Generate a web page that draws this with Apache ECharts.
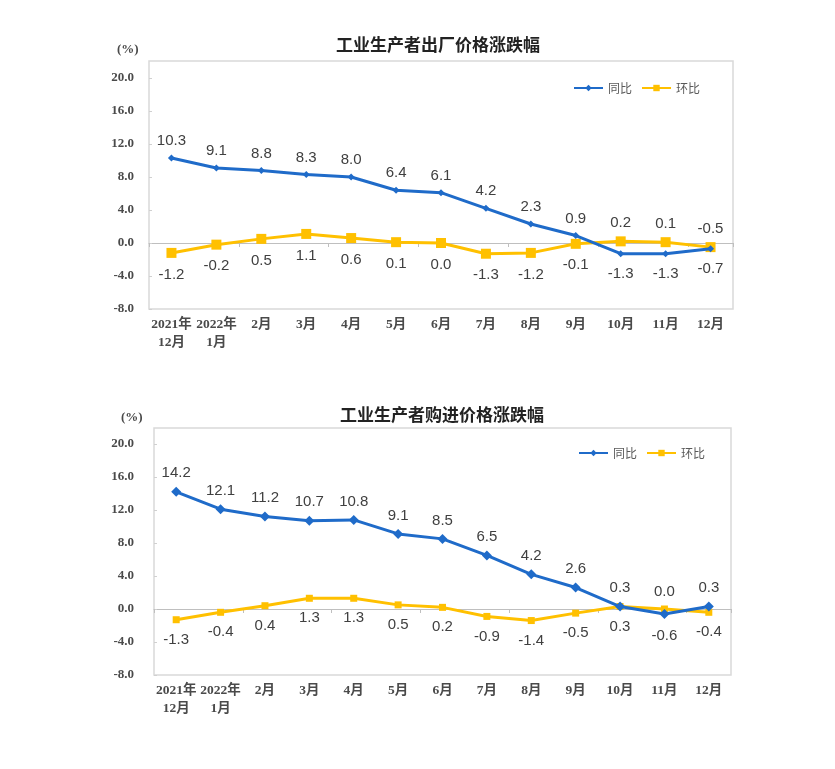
<!DOCTYPE html>
<html>
<head>
<meta charset="utf-8">
<script src="https://cdn.jsdelivr.net/npm/echarts@6/dist/echarts.min.js"></script>
<style>
html,body{margin:0;padding:0;background:#fff;}
#c{width:835px;height:769px;}
</style>
</head>
<body>
<div id="c"></div>
<script>
const categories = ['2021年\n12月','2022年\n1月','2月','3月','4月','5月','6月','7月','8月','9月','10月','11月','12月'];
const ppiYoY   = [10.3, 9.1, 8.8, 8.3, 8.0, 6.4, 6.1, 4.2, 2.3, 0.9, -1.3, -1.3, -0.7];
const ppiMoM   = [-1.2, -0.2, 0.5, 1.1, 0.6, 0.1, 0.0, -1.3, -1.2, -0.1, 0.2, 0.1, -0.5];
const ppirmYoY = [14.2, 12.1, 11.2, 10.7, 10.8, 9.1, 8.5, 6.5, 4.2, 2.6, 0.3, -0.6, 0.3];
const ppirmMoM = [-1.3, -0.4, 0.4, 1.3, 1.3, 0.5, 0.2, -0.9, -1.4, -0.5, 0.3, 0.0, -0.4];
const yMin = -8, yMax = 20, yStep = 4;
const titles = ['工业生产者出厂价格涨跌幅', '工业生产者购进价格涨跌幅'];
const seriesNames = ['同比', '环比'];

const BLUE = '#1f6bc9', GOLD = '#ffc000';
const serif = "'Liberation Serif','Noto Sans CJK SC',serif";
const sans = "'Liberation Sans',Arial,sans-serif";
const cjk = "'Noto Sans CJK SC',sans-serif";

function withLabels(vals, other, isYoY) {
  return vals.map((v, i) => {
    const above = isYoY ? v >= other[i] : v > other[i];
    return {value: v, label: {position: above ? 'top' : 'bottom', distance: above ? 6 : 9}};
  });
}

const grids = [
  {left: 149, right: 102, top: 78, height: 231},
  {left: 154, right: 104, top: 444, height: 231}
];
const yLabelMargin = [15, 20];
const boxes = [
  {x: 149, y: 61, w: 584, h: 248},
  {x: 154, y: 428, w: 577, h: 247}
];

const xAxes = [], yAxes = [], series = [];
[0, 1].forEach(g => {
  xAxes.push({
    type: 'category', gridIndex: g, data: categories, position: 'bottom', boundaryGap: true,
    axisLine: {show: false, onZero: false}, axisTick: {show: false},
    axisLabel: {color: '#4a4a4a', fontFamily: serif, fontWeight: 'bold', fontSize: 13.5, margin: 7, lineHeight: 18, interval: 0}
  });
  xAxes.push({
    type: 'category', gridIndex: g, data: categories, position: 'bottom', boundaryGap: true,
    axisLine: {show: true, onZero: true, lineStyle: {color: '#bfbfbf', width: 1}},
    axisTick: {show: true, length: 4, inside: false, lineStyle: {color: '#bfbfbf'}},
    axisLabel: {show: false}
  });
  yAxes.push({
    type: 'value', gridIndex: g, min: yMin, max: yMax, interval: yStep,
    axisLine: {show: false}, axisTick: {show: true, inside: true, length: 3, lineStyle: {color: '#d0d0d0'}},
    splitLine: {show: false},
    axisLabel: {color: '#4a4a4a', fontFamily: serif, fontWeight: 'bold', fontSize: 13, margin: yLabelMargin[g],
      formatter: v => v.toFixed(1)}
  });
});

const labelStyle = {show: true, color: '#404040', fontFamily: sans, fontSize: 15,
  formatter: p => Number(p.value).toFixed(1)};
const sets = [[ppiYoY, ppiMoM], [ppirmYoY, ppirmMoM]];
const sym = [[7, 10], [10, 7]];
[0, 1].forEach(g => {
  const [yoy, mom] = sets[g];
  series.push({
    name: seriesNames[0], type: 'line', xAxisIndex: g * 2, yAxisIndex: g,
    data: withLabels(yoy, mom, true), symbol: 'diamond', symbolSize: sym[g][0],
    lineStyle: {color: BLUE, width: 3}, itemStyle: {color: BLUE},
    label: labelStyle, z: 3
  });
  series.push({
    name: seriesNames[1], type: 'line', xAxisIndex: g * 2, yAxisIndex: g,
    data: withLabels(mom, yoy, false), symbol: 'rect', symbolSize: sym[g][1],
    lineStyle: {color: GOLD, width: 3}, itemStyle: {color: GOLD},
    label: labelStyle, z: 2
  });
});

const option = {
  backgroundColor: '#fff',
  animation: false,
  title: [
    {text: titles[0], left: 433, top: 31, textAlign: 'center', textStyle: {fontFamily: cjk, fontSize: 17, fontWeight: 'bold', color: '#222'}},
    {text: titles[1], left: 437, top: 401, textAlign: 'center', textStyle: {fontFamily: cjk, fontSize: 17, fontWeight: 'bold', color: '#222'}}
  ],
  legend: [
    {left: 568, top: 77, itemWidth: 29, itemHeight: 8, itemGap: 9, data: seriesNames,
      textStyle: {fontFamily: cjk, fontSize: 12, color: '#595959'}},
    {left: 573, top: 442, itemWidth: 29, itemHeight: 8, itemGap: 9, data: seriesNames,
      textStyle: {fontFamily: cjk, fontSize: 12, color: '#595959'}}
  ],
  grid: grids,
  xAxis: xAxes,
  yAxis: yAxes,
  series: series,
  graphic: [
    {type: 'rect', shape: {x: boxes[0].x, y: boxes[0].y, width: boxes[0].w, height: boxes[0].h}, style: {fill: 'none', stroke: '#d9d9d9', lineWidth: 1.5}, z: 0, silent: true},
    {type: 'rect', shape: {x: boxes[1].x, y: boxes[1].y, width: boxes[1].w, height: boxes[1].h}, style: {fill: 'none', stroke: '#d9d9d9', lineWidth: 1.5}, z: 0, silent: true},
    {type: 'text', left: 117, top: 43, style: {text: '(%)', fontFamily: serif, fontWeight: 'bold', fontSize: 13, fill: '#4a4a4a'}},
    {type: 'text', left: 121, top: 411, style: {text: '(%)', fontFamily: serif, fontWeight: 'bold', fontSize: 13, fill: '#4a4a4a'}}
  ]
};
echarts.init(document.getElementById('c'), null, {renderer: 'canvas'}).setOption(option);
</script>
</body>
</html>
